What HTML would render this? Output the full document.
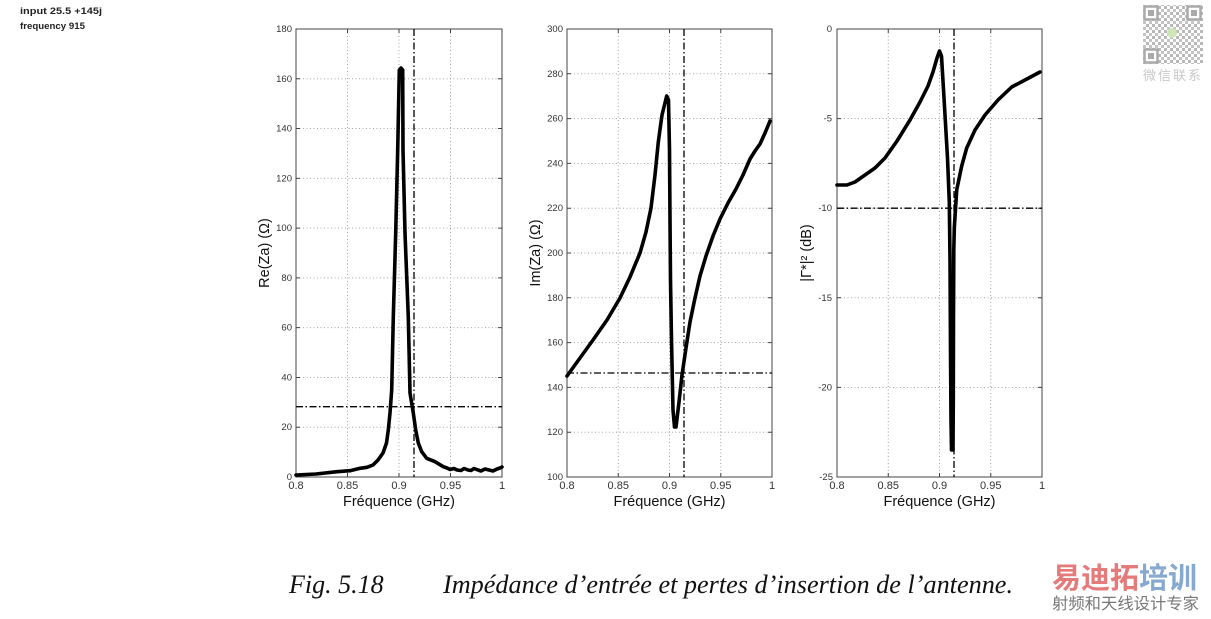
<!DOCTYPE html>
<html><head><meta charset="utf-8"><style>
html,body{margin:0;padding:0;background:#fff;}
body{width:1211px;height:619px;overflow:hidden;position:relative;}
svg{position:absolute;left:0;top:0;}
.tk{font-family:"Liberation Sans",Arial,sans-serif;font-size:9.5px;fill:#333;}
.tx{font-family:"Liberation Sans",Arial,sans-serif;font-size:11px;fill:#333;}
.lb{font-family:"Liberation Sans",Arial,sans-serif;font-size:14.5px;fill:#111;}
</style></head><body>
<svg width="1211" height="619" viewBox="0 0 1211 619" xmlns="http://www.w3.org/2000/svg">
<defs>
<pattern id="qr" width="6" height="6" patternUnits="userSpaceOnUse">
<rect x="0" y="0" width="3" height="3" fill="#b8b8b8"/><rect x="3" y="3" width="3" height="3" fill="#c4c4c4"/>
</pattern>
</defs>
<!-- top-left text -->
<text x="20" y="14" font-family="Liberation Sans, Arial, sans-serif" font-size="9.5" font-weight="bold" fill="#222" textLength="82" lengthAdjust="spacingAndGlyphs">input 25.5 +145j</text>
<text x="20" y="29" font-family="Liberation Sans, Arial, sans-serif" font-size="9.5" font-weight="bold" fill="#222" textLength="65" lengthAdjust="spacingAndGlyphs">frequency 915</text>

<!-- ============ PLOT 1 ============ -->
<g stroke="#999" stroke-width="0.9" stroke-dasharray="1,2.5" fill="none">
<path d="M347.5 29V477M399 29V477M450.5 29V477"/>
<path d="M296 427.22H502M296 377.44H502M296 327.67H502M296 277.89H502M296 228.11H502M296 178.33H502M296 128.56H502M296 78.78H502"/>
</g>
<rect x="296" y="29" width="206" height="448" fill="none" stroke="#444" stroke-width="1"/>
<path stroke="#444" stroke-width="1" fill="none" d="M296 427.22h4M296 377.44h4M296 327.67h4M296 277.89h4M296 228.11h4M296 178.33h4M296 128.56h4M296 78.78h4M502 427.22h-4M502 377.44h-4M502 327.67h-4M502 277.89h-4M502 228.11h-4M502 178.33h-4M502 128.56h-4M502 78.78h-4M347.5 477v-4M399 477v-4M450.5 477v-4M347.5 29v4M399 29v4M450.5 29v4"/>
<g stroke="#000" stroke-width="1.3" stroke-dasharray="7,2.5,1.5,2.5" fill="none">
<path d="M296 406.7H502"/><path d="M414 29V477"/>
</g>
<polyline fill="none" stroke="#000" stroke-width="3.6" stroke-linejoin="round" stroke-linecap="round" points="296,475 316,474 337,471.7 350,470.7 360,468.3 367,467.3 373,465 378,460 383,453 386.5,443 388.3,430 390,413 391.7,390 393.3,317 395.7,233 397.7,150 399.3,70 401,68 402.7,70 403,150 405,233 408.3,317 410,393 413.3,413 415.7,430 418.3,443 421.7,451.7 426.7,458.3 435,461.7 443.3,466.7 447,468 450,469.5 454,468.5 457,470 461,470.5 464,468.5 468,470 471,470.5 474,468.5 478,470 481,471 485,469 489,470 493,471 497,469 500,468 502,467"/>
<g class="tk" text-anchor="end">
<text x="292" y="480">0</text><text x="292" y="430.2">20</text><text x="292" y="380.4">40</text><text x="292" y="330.7">60</text><text x="292" y="280.9">80</text><text x="292" y="231.1">100</text><text x="292" y="181.3">120</text><text x="292" y="131.6">140</text><text x="292" y="81.8">160</text><text x="292" y="32">180</text>
</g>
<g class="tx" text-anchor="middle">
<text x="296" y="489">0.8</text><text x="347.5" y="489">0.85</text><text x="399" y="489">0.9</text><text x="450.5" y="489">0.95</text><text x="502" y="489">1</text>
</g>
<text class="lb" x="399" y="506" text-anchor="middle">Fréquence (GHz)</text>
<text class="lb" transform="translate(269,253) rotate(-90)" text-anchor="middle">Re(Za) (Ω)</text>

<!-- ============ PLOT 2 ============ -->
<g stroke="#999" stroke-width="0.9" stroke-dasharray="1,2.5" fill="none">
<path d="M618.25 29V477M669.5 29V477M720.75 29V477"/>
<path d="M567 432.2H772M567 387.4H772M567 342.6H772M567 297.8H772M567 253H772M567 208.2H772M567 163.4H772M567 118.6H772M567 73.8H772"/>
</g>
<rect x="567" y="29" width="205" height="448" fill="none" stroke="#444" stroke-width="1"/>
<path stroke="#444" stroke-width="1" fill="none" d="M567 432.2h4M567 387.4h4M567 342.6h4M567 297.8h4M567 253h4M567 208.2h4M567 163.4h4M567 118.6h4M567 73.8h4M772 432.2h-4M772 387.4h-4M772 342.6h-4M772 297.8h-4M772 253h-4M772 208.2h-4M772 163.4h-4M772 118.6h-4M772 73.8h-4M618.25 477v-4M669.5 477v-4M720.75 477v-4M618.25 29v4M669.5 29v4M720.75 29v4"/>
<g stroke="#000" stroke-width="1.3" stroke-dasharray="7,2.5,1.5,2.5" fill="none">
<path d="M567 373H772"/><path d="M684 29V477"/>
</g>
<polyline fill="none" stroke="#000" stroke-width="3.6" stroke-linejoin="round" stroke-linecap="round" points="567,376 580,358 593,340 607,320 620,298 630,277 640,253 646,232 651,208 655,175 658.3,142 662,115 666.7,96 668.5,100 669.5,150 670,220 670.5,280 671.5,340 673,410 674.5,427 676,427 679,402 682,375 686,348 690,322 695,298 700,276 706,256 713,236 720,219 728,203 736,189 743,175 750,159 755,151 760,144 765,133 770,121"/>
<g class="tk" text-anchor="end">
<text x="563" y="480">100</text><text x="563" y="435.2">120</text><text x="563" y="390.4">140</text><text x="563" y="345.6">160</text><text x="563" y="300.8">180</text><text x="563" y="256">200</text><text x="563" y="211.2">220</text><text x="563" y="166.4">240</text><text x="563" y="121.6">260</text><text x="563" y="76.8">280</text><text x="563" y="32">300</text>
</g>
<g class="tx" text-anchor="middle">
<text x="567" y="489">0.8</text><text x="618.25" y="489">0.85</text><text x="669.5" y="489">0.9</text><text x="720.75" y="489">0.95</text><text x="772" y="489">1</text>
</g>
<text class="lb" x="669.5" y="506" text-anchor="middle">Fréquence (GHz)</text>
<text class="lb" transform="translate(540,253) rotate(-90)" text-anchor="middle">Im(Za) (Ω)</text>

<!-- ============ PLOT 3 ============ -->
<g stroke="#999" stroke-width="0.9" stroke-dasharray="1,2.5" fill="none">
<path d="M888.25 29V477M939.5 29V477M990.75 29V477"/>
<path d="M837 118.6H1042M837 208.2H1042M837 297.8H1042M837 387.4H1042"/>
</g>
<rect x="837" y="29" width="205" height="448" fill="none" stroke="#444" stroke-width="1"/>
<path stroke="#444" stroke-width="1" fill="none" d="M837 118.6h4M837 208.2h4M837 297.8h4M837 387.4h4M1042 118.6h-4M1042 208.2h-4M1042 297.8h-4M1042 387.4h-4M888.25 477v-4M939.5 477v-4M990.75 477v-4M888.25 29v4M939.5 29v4M990.75 29v4"/>
<g stroke="#000" stroke-width="1.3" stroke-dasharray="7,2.5,1.5,2.5" fill="none">
<path d="M837 208.2H1042"/><path d="M954 29V477"/>
</g>
<polyline fill="none" stroke="#000" stroke-width="3.6" stroke-linejoin="round" stroke-linecap="round" points="837,185 847,185 855,182 865,175 875,168 885,158 897,141 910,120 920,102 928,86 933,72 937,58 939.5,51 941.5,56 944,98 947.5,158 949.3,202 950,260 950.5,350 951,420 951.5,450 953,450 953.3,400 953.5,320 953.8,250 954.3,228 956.7,190 961.7,166 966.7,148 975,130 985,115 998,100 1011.7,87 1025,80 1040,72"/>
<g class="tk" text-anchor="end">
<text x="832" y="32">0</text><text x="832" y="121.6">-5</text><text x="832" y="211.2">-10</text><text x="832" y="300.8">-15</text><text x="832" y="390.4">-20</text><text x="833" y="480">-25</text>
</g>
<g class="tx" text-anchor="middle">
<text x="837" y="489">0.8</text><text x="888.25" y="489">0.85</text><text x="939.5" y="489">0.9</text><text x="990.75" y="489">0.95</text><text x="1042" y="489">1</text>
</g>
<text class="lb" x="939.5" y="506" text-anchor="middle">Fréquence (GHz)</text>
<text class="lb" transform="translate(811,253) rotate(-90)" text-anchor="middle">|Γ*|² (dB)</text>

<!-- caption -->
<text x="289" y="593" font-family="Liberation Serif, Times New Roman, serif" font-style="italic" font-size="26" fill="#111">Fig. 5.18</text>
<text x="443" y="593" font-family="Liberation Serif, Times New Roman, serif" font-style="italic" font-size="26" fill="#111" textLength="570" lengthAdjust="spacingAndGlyphs">Impédance d’entrée et pertes d’insertion de l’antenne.</text>

<!-- QR code -->
<rect x="1143" y="5" width="60" height="59" fill="url(#qr)"/>
<g fill="none" stroke="#aaa" stroke-width="2.5">
<rect x="1144.5" y="6.5" width="13" height="13" fill="#fff"/>
<rect x="1187.5" y="6.5" width="13" height="13" fill="#fff"/>
<rect x="1144.5" y="49.5" width="13" height="13" fill="#fff"/>
</g>
<rect x="1148" y="10" width="6" height="6" fill="#aaa"/>
<rect x="1191" y="10" width="6" height="6" fill="#aaa"/>
<rect x="1148" y="53" width="6" height="6" fill="#aaa"/>
<circle cx="1172" cy="33" r="5" fill="#cfe6b8"/>
<text x="1173" y="80" text-anchor="middle" font-family="Liberation Sans, Noto Sans CJK SC, sans-serif" font-size="13" fill="#c8c8c8" letter-spacing="2">微信联系</text>

<!-- logo -->
<text x="1052" y="588" font-family="Liberation Sans, Noto Sans CJK SC, sans-serif" font-size="29" font-weight="bold" fill="#e57a7a">易迪拓<tspan fill="#86a9cf">培训</tspan></text>
<text x="1052" y="609" font-family="Liberation Sans, Noto Sans CJK SC, sans-serif" font-size="16" fill="#777" textLength="147" lengthAdjust="spacingAndGlyphs">射频和天线设计专家</text>
</svg>
</body></html>
